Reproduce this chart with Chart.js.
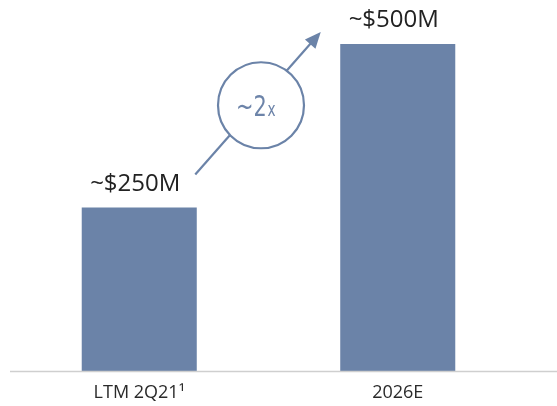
<!DOCTYPE html>
<html>
<head>
<meta charset="utf-8">
<script src="https://cdn.jsdelivr.net/npm/chart.js@4"></script>
<style>
  html, body { margin: 0; padding: 0; background: #fff; }
  #wrap { width: 557px; height: 406px; }
</style>
</head>
<body>
<div id="wrap"><canvas id="bars"></canvas></div>
<script>
const categories = ["LTM 2Q21\u00B9", "2026E"];
const revenue = [250, 500];
const valueLabels = ["~$250M", "~$500M"];
const growthLabel = "~2";
const growthSuffix = "x";

const barColor = "#6b83a8";
const textColor = "#222222";

// value labels, growth arrow and baseline
const overlay = {
  id: "overlay",
  afterDatasetsDraw(chart) {
    const ctx = chart.ctx;
    const bars = chart.getDatasetMeta(0).data;
    const area = chart.chartArea;

    ctx.save();
    // baseline across the whole width
    ctx.strokeStyle = "#cfcfcf";
    ctx.lineWidth = 1.5;
    ctx.beginPath();
    ctx.moveTo(10, area.bottom + 0.5);
    ctx.lineTo(557, area.bottom + 0.5);
    ctx.stroke();

    // value labels
    ctx.fillStyle = textColor;
    ctx.textAlign = "center";
    ctx.textBaseline = "alphabetic";
    ctx.font = "24px 'Open Sans'";
    bars.forEach((b, i) => {
      ctx.fillText(valueLabels[i], b.x - 4, b.y - 17);
    });

    // arrow from first label to second
    const x0 = bars[0].x + 56, y0 = bars[0].y - 33;
    const x1 = bars[1].x - 77, y1 = bars[1].y - 12;
    const cx = (x0 + x1) / 2 + 3, cy = (y0 + y1) / 2 + 2;
    const r = 43;
    const ang = Math.atan2(y1 - y0, x1 - x0);

    ctx.strokeStyle = barColor;
    ctx.fillStyle = barColor;
    ctx.lineWidth = 2.2;
    ctx.beginPath();
    ctx.moveTo(x0, y0);
    ctx.lineTo(x1 - 12 * Math.cos(ang), y1 - 12 * Math.sin(ang));
    ctx.stroke();

    // arrow head
    ctx.beginPath();
    ctx.moveTo(x1, y1);
    ctx.lineTo(x1 - 16 * Math.cos(ang) + 7 * Math.sin(ang), y1 - 16 * Math.sin(ang) - 7 * Math.cos(ang));
    ctx.lineTo(x1 - 16 * Math.cos(ang) - 7 * Math.sin(ang), y1 - 16 * Math.sin(ang) + 7 * Math.cos(ang));
    ctx.closePath();
    ctx.fill();

    // circle
    ctx.fillStyle = "#ffffff";
    ctx.beginPath();
    ctx.arc(cx, cy, r, 0, Math.PI * 2);
    ctx.fill();
    ctx.stroke();

    // ~2x, condensed
    ctx.fillStyle = "#6d84a9";
    ctx.save();
    ctx.translate(cx, cy);
    ctx.scale(0.72, 1);
    ctx.textAlign = "right";
    ctx.font = "29px 'DejaVu Sans'";
    ctx.fillText(growthLabel, 8, 11);
    ctx.textAlign = "left";
    ctx.font = "19px 'DejaVu Sans'";
    ctx.fillText(growthSuffix, 9, 11);
    ctx.restore();

    ctx.restore();
  }
};

new Chart(document.getElementById("bars"), {
  type: "bar",
  data: {
    labels: categories,
    datasets: [{
      data: revenue,
      backgroundColor: barColor,
      borderWidth: 0,
      barPercentage: 0.445,
      categoryPercentage: 1
    }]
  },
  options: {
    responsive: true,
    maintainAspectRatio: false,
    animation: false,
    layout: { padding: { top: 44, left: 10, right: 30, bottom: 0 } },
    plugins: {
      legend: { display: false },
      tooltip: { enabled: false }
    },
    scales: {
      x: {
        grid: { display: false, drawTicks: false },
        border: { display: false },
        afterFit(scale) { scale.height = 35; },
        ticks: {
          color: "#2a2a2a",
          padding: 11,
          font: { family: "'Open Sans'", size: 18 }
        }
      },
      y: {
        display: false,
        min: 0,
        max: 500
      }
    }
  },
  plugins: [overlay]
});
</script>
</body>
</html>
